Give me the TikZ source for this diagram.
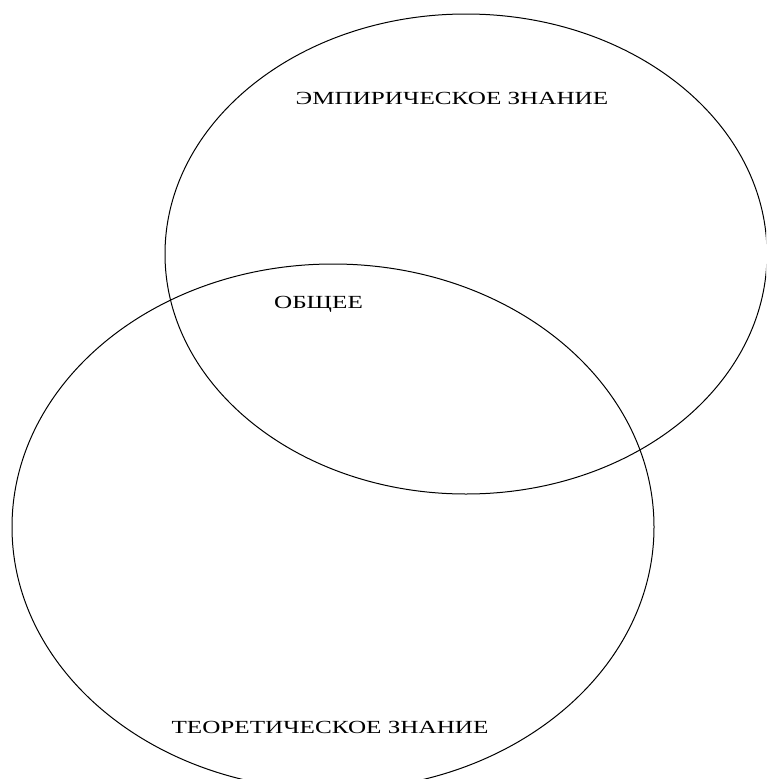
\documentclass[tikz,border=0pt]{standalone}
\usepackage{fontspec}
\setmainfont{Liberation Serif}
\usepackage{graphicx}
\usetikzlibrary{shapes.geometric}
\tikzset{
  set/.style={ellipse, draw=black, line width=1pt, inner sep=0pt, outer sep=0pt},
  lbl/.style={anchor=base, inner sep=0pt, font=\fontsize{18.5}{20}\selectfont}
}
\newcommand{\wide}[1]{\scalebox{1.36}[1]{#1}}
\begin{document}
\begin{tikzpicture}[x=1pt,y=-1pt]
\useasboundingbox (0,0) rectangle (766,779);
\clip (0,0) rectangle (766,779);
\node[set, minimum width=602pt, minimum height=480pt] (emp) at (466,254) {};
\node[set, minimum width=642pt, minimum height=526pt] (teo) at (333,527) {};
\node[lbl] (empl) at (452,104.5) {\wide{ЭМПИРИЧЕСКОЕ ЗНАНИЕ}};
\node[lbl] (common) at (318.5,308) {\wide{ОБЩЕЕ}};
\node[lbl] (teol) at (330,733) {\wide{ТЕОРЕТИЧЕСКОЕ ЗНАНИЕ}};
\end{tikzpicture}
\end{document}
